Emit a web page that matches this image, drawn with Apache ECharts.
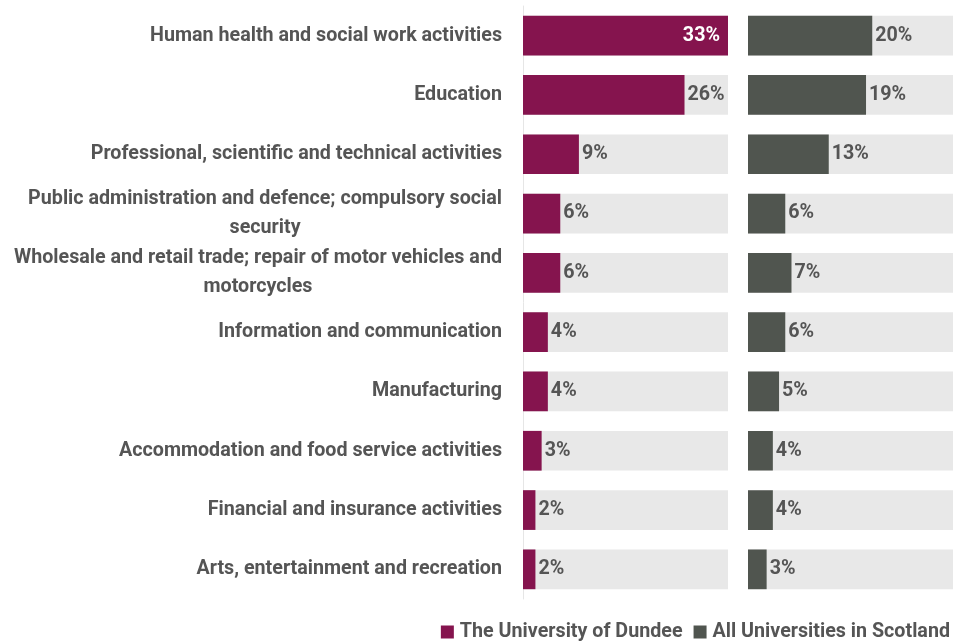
<!DOCTYPE html>
<html>
<head>
<meta charset="utf-8">
<script src="https://cdn.jsdelivr.net/npm/echarts@6/dist/echarts.min.js"></script>
<style>
  html, body { margin: 0; padding: 0; background: #ffffff; }
  #chart { width: 960px; height: 641px; }
</style>
</head>
<body>
<div id="chart"></div>
<script>
// Industries of employment, share of graduates (%)
const industries = [
  'Human health and social work activities',
  'Education',
  'Professional, scientific and technical activities',
  'Public administration and defence; compulsory social security',
  'Wholesale and retail trade; repair of motor vehicles and motorcycles',
  'Information and communication',
  'Manufacturing',
  'Accommodation and food service activities',
  'Financial and insurance activities',
  'Arts, entertainment and recreation'
];
const dundee = [33, 26, 9, 6, 6, 4, 4, 3, 2, 2];
const scotland = [20, 19, 13, 6, 7, 6, 5, 4, 4, 3];
const seriesNames = ['The University of Dundee', 'All Universities in Scotland'];
const axisMax = 33;

const FONT = 'Roboto';
const FS = 19.7;
const TEXT = '#555555';
const PLUM = '#85144e';
const SLATE = '#50554f';
const TRACK = '#e8e8e8';
const LABEL_WIDTH = 495;

// Word-wrap a category name to the label column width; each line is
// centred within the label block, and the block sits against the axis.
const measureCtx = document.createElement('canvas').getContext('2d');
measureCtx.font = 'bold ' + FS + 'px ' + FONT;
function wrapCategory(name) {
  const words = name.split(' ');
  const lines = [];
  let line = '';
  words.forEach(w => {
    const test = line ? line + ' ' + w : w;
    if (line && measureCtx.measureText(test).width > LABEL_WIDTH) {
      lines.push(line);
      line = w;
    } else {
      line = test;
    }
  });
  if (line) lines.push(line);
  return lines.map(l => '{c|' + l + '}').join('\n');
}

// Bars too long for an outside label get their label inside, in white
function barData(values) {
  return values.map(v => {
    if (v >= axisMax) {
      return { value: v, label: { position: 'insideRight', color: '#ffffff', distance: 8 } };
    }
    return v;
  });
}

const labelBase = {
  show: true,
  position: 'right',
  distance: 3,
  formatter: p => p.value + '%',
  fontFamily: FONT,
  fontWeight: 'bold',
  fontSize: FS,
  color: TEXT
};

const chart = echarts.init(document.getElementById('chart'), null, { renderer: 'canvas' });
chart.setOption({
  animation: false,
  backgroundColor: '#ffffff',
  textStyle: { fontFamily: FONT },
  legend: {
    right: 5,
    top: 617,
    itemWidth: 13,
    itemHeight: 13,
    itemGap: 11,
    icon: 'rect',
    textStyle: { fontFamily: FONT, fontWeight: 'bold', fontSize: FS, color: TEXT, padding: [0, 0, 0, 1] },
    data: seriesNames
  },
  grid: [
    { left: 523, width: 205, top: 6, bottom: 42 },
    { left: 748, width: 205, top: 6, bottom: 42 }
  ],
  xAxis: [
    { type: 'value', gridIndex: 0, min: 0, max: axisMax, show: false },
    { type: 'value', gridIndex: 1, min: 0, max: axisMax, show: false }
  ],
  yAxis: [
    {
      type: 'category', gridIndex: 0, inverse: true, data: industries,
      axisLine: { show: true, lineStyle: { color: '#e6e6e6', width: 1 } },
      axisTick: { show: false },
      axisLabel: {
        margin: 21,
        align: 'right',
        formatter: wrapCategory,
        rich: {
          c: {
            align: 'center',
            lineHeight: 29,
            fontFamily: FONT,
            fontWeight: 'bold',
            fontSize: FS,
            color: TEXT
          }
        },
        lineHeight: 29,
        fontFamily: FONT,
        fontWeight: 'bold',
        fontSize: FS,
        color: TEXT
      }
    },
    {
      type: 'category', gridIndex: 1, inverse: true, data: industries,
      axisLine: { show: false }, axisTick: { show: false }, axisLabel: { show: false }
    }
  ],
  series: [
    {
      name: seriesNames[0], type: 'bar', xAxisIndex: 0, yAxisIndex: 0,
      data: barData(dundee), barWidth: '67%',
      itemStyle: { color: PLUM },
      showBackground: true, backgroundStyle: { color: TRACK },
      label: labelBase
    },
    {
      name: seriesNames[1], type: 'bar', xAxisIndex: 1, yAxisIndex: 1,
      data: barData(scotland), barWidth: '67%',
      itemStyle: { color: SLATE },
      showBackground: true, backgroundStyle: { color: TRACK },
      label: labelBase
    }
  ]
});
</script>
</body>
</html>
